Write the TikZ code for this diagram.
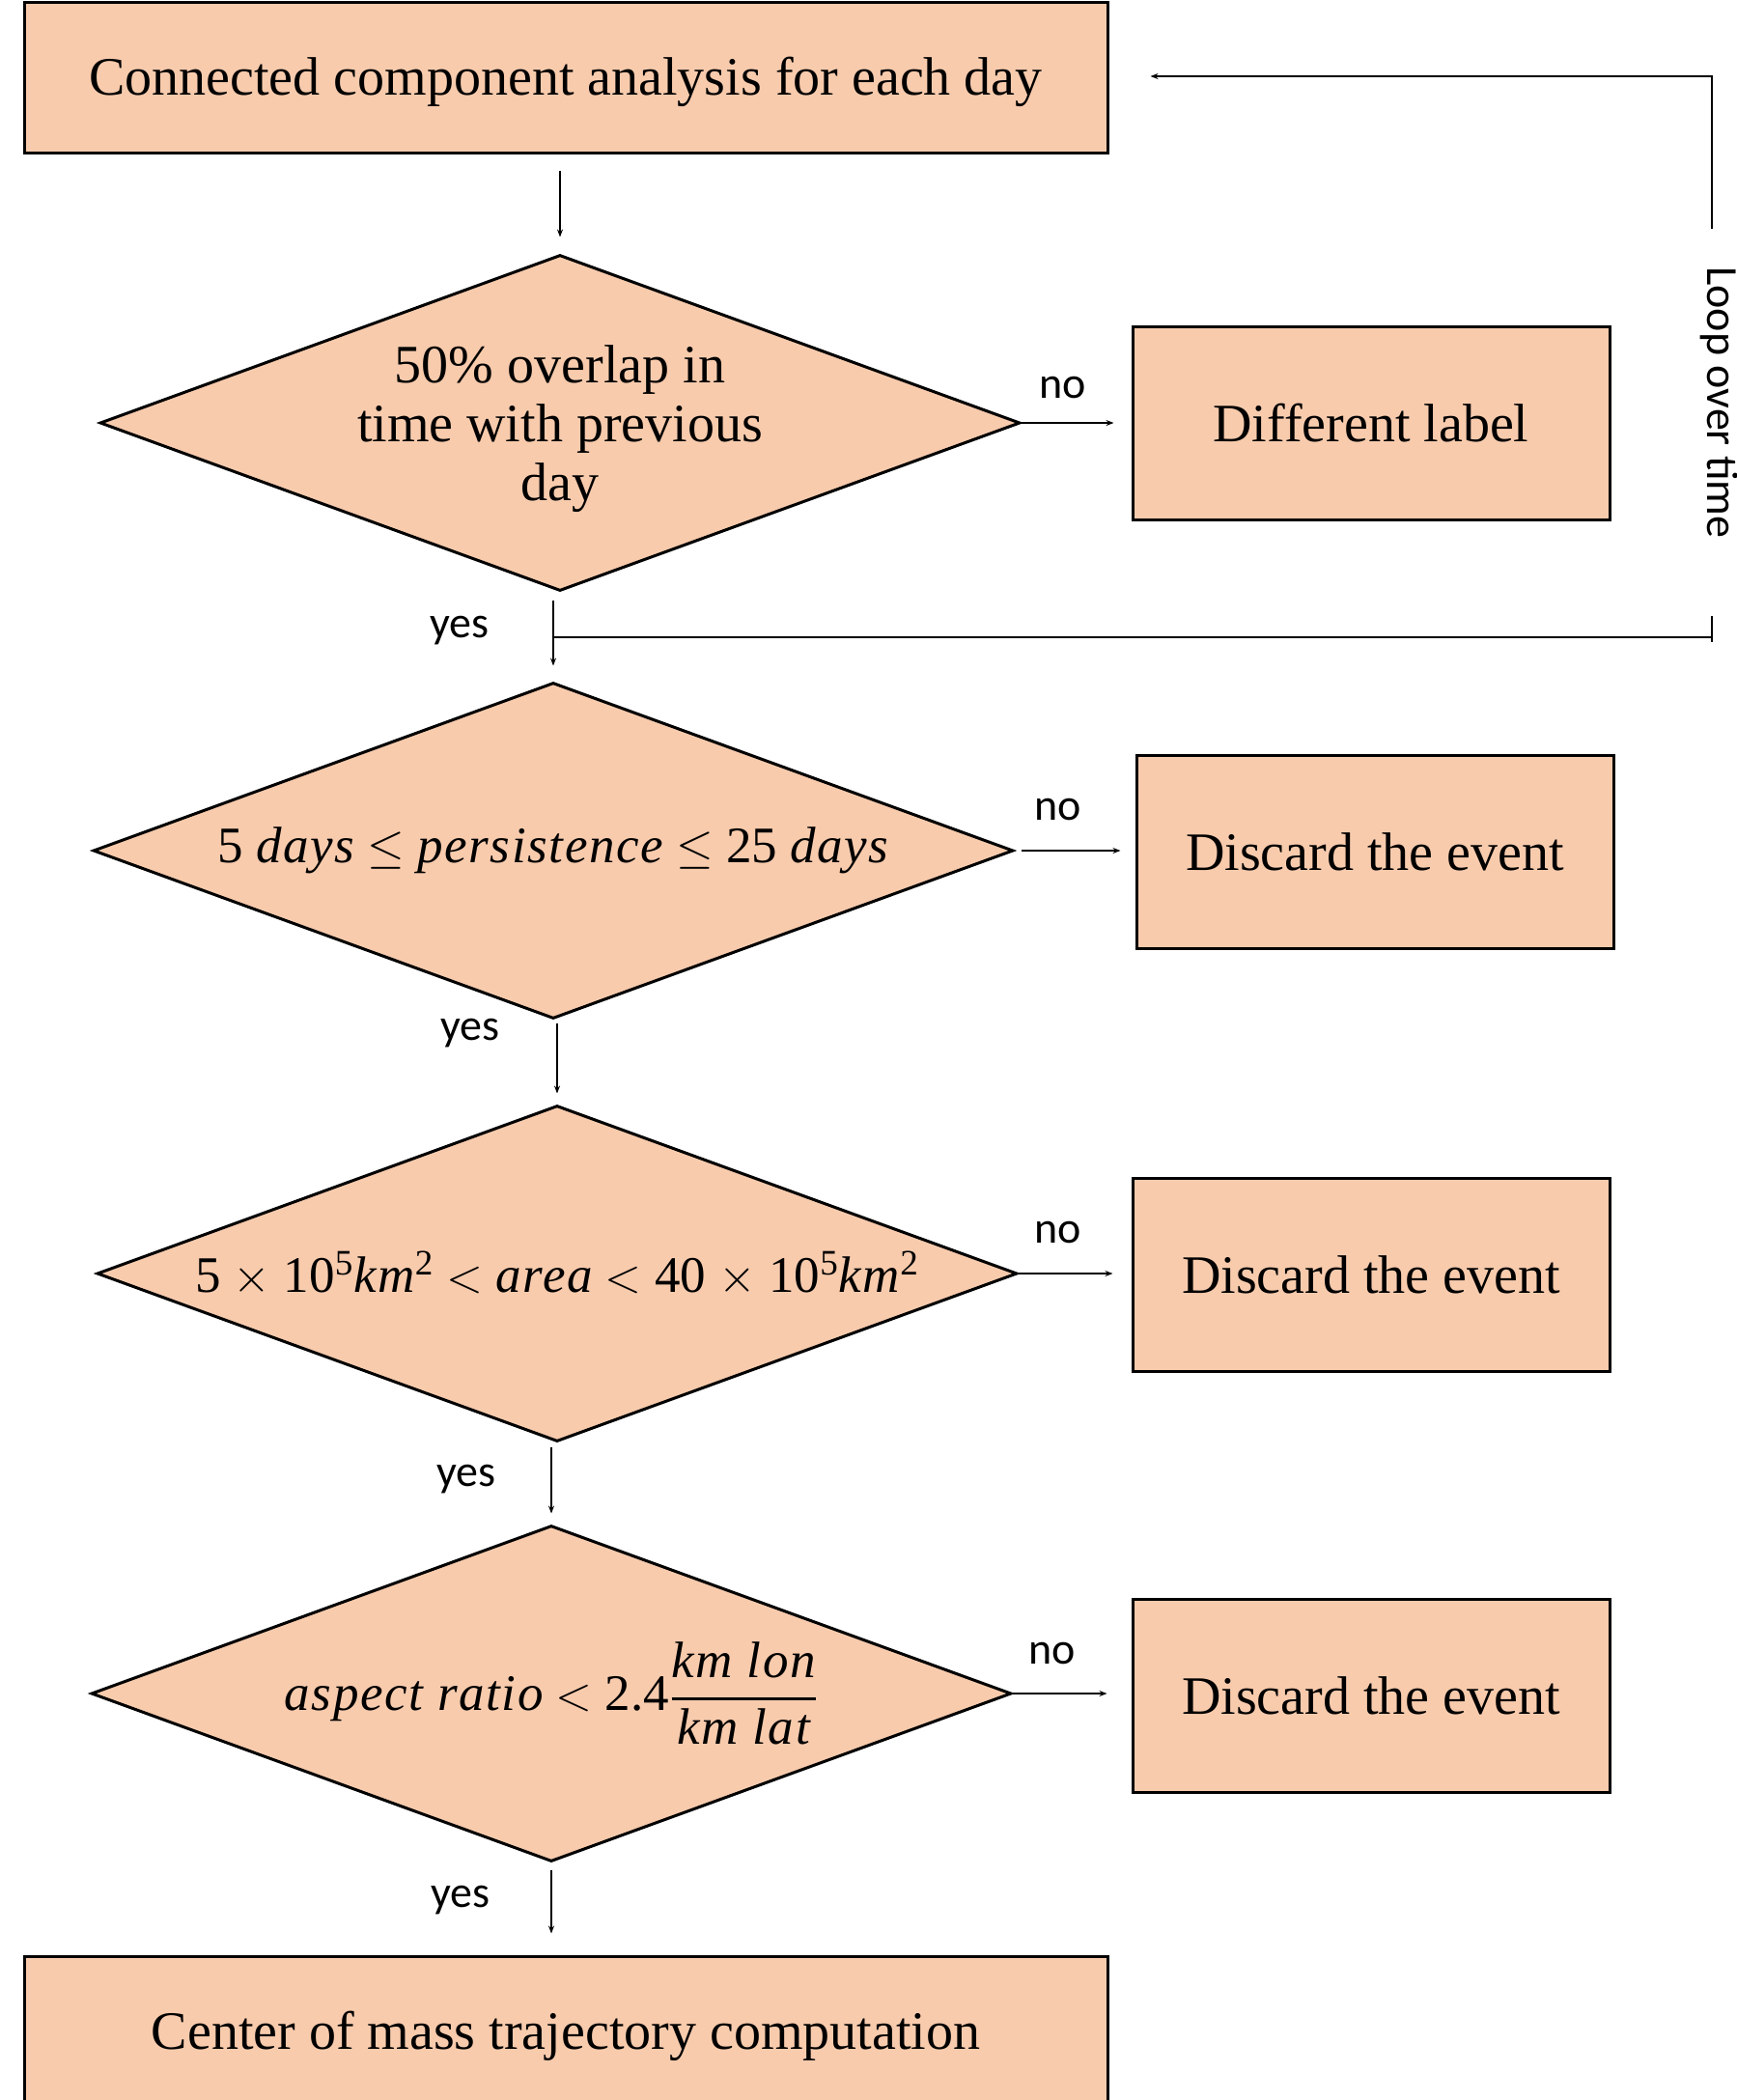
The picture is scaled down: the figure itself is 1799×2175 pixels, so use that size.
\documentclass[tikz,border=0pt]{standalone}
\usepackage{amsmath}
\usepackage{fontspec}
\setmainfont{Liberation Serif}
\newfontfamily\labelfont{Carlito}
\newfontfamily\varfam{Liberation Serif}[LetterSpace=3]
\newcommand{\mvar}[1]{\mbox{\varfam\itshape #1}}
\usetikzlibrary{shapes.geometric,arrows.meta}
\definecolor{boxfill}{HTML}{F8CBAD}
\begin{document}
\begin{tikzpicture}[x=0.5pt,y=-0.5pt,
  procbox/.style={draw=black, line width=1.5pt, fill=boxfill, rectangle,
    minimum height=100pt, minimum width=247pt, inner sep=0pt,
    font=\fontsize{28}{30.5}\selectfont},
  widebox/.style={procbox, minimum width=561pt, minimum height=78pt,
    text height=24.5pt, text depth=6pt},
  decision/.style={draw=black, line width=1.5pt, fill=boxfill, diamond,
    minimum width=476.5pt, minimum height=174pt, inner sep=0pt,
    font=\fontsize{26.5}{30}\selectfont},
  conn/.style={line width=0.75pt, -{Stealth[length=4pt,width=3pt]}},
  plain/.style={line width=0.75pt},
  tag/.style={font=\labelfont\fontsize{23}{27}\selectfont, inner sep=0pt},
]
\useasboundingbox (0,0) rectangle (1799,2175);
\clip (0,0) rectangle (1799,2175);

% process boxes
\node[widebox] (top) at (586,80) {Connected component analysis for each day};
\node[procbox] (diff) at (1420,438) {Different label};
\node[procbox] (disc1) at (1424,882) {Discard the event};
\node[procbox] (disc2) at (1420,1320) {Discard the event};
\node[procbox] (disc3) at (1420,1756) {Discard the event};
\node[widebox] (bottom) at (586,2104) {Center of mass trajectory computation};

% decisions
\node[decision] (d1) at (580,438) {\makebox[0pt]{\fontsize{28}{30.5}\selectfont
  \raisebox{-3.5pt}[\height][\depth]{\begin{tabular}{@{}c@{}}50\% overlap in\\time with previous\\day\end{tabular}}}};
\node[decision] (d2) at (573,881) {\makebox[0pt]{5 \mvar{days} $\leq$ \mvar{persistence} $\leq$ 25 \mvar{days}}};
\node[decision] (d3) at (577,1319) {\makebox[0pt]{5 $\times$ 10\textsuperscript{5}\mvar{km}\textsuperscript{2}
  $<$ \mvar{area} $<$ 40 $\times$ 10\textsuperscript{5}\mvar{km}\textsuperscript{2}}};
\node[decision] (d4) at (571,1754) {\makebox[0pt]{\mvar{aspect ratio} $<$
  2.4$\genfrac{}{}{1.5pt}{0}{\mvar{km lon}}{\mvar{km lat}}$}};

% main flow
\draw[conn, shorten <=8.5pt, shorten >=8.5pt] (top.south -| d1.north) -- (d1.north);
\draw[conn, shorten <=4pt, shorten >=8pt] (d1.south -| d2.north) -- (d2.north);
\draw[conn, shorten <=1.5pt, shorten >=5.5pt] (d2.south -| d3.north) -- (d3.north);
\draw[conn, shorten <=2pt, shorten >=5.5pt] (d3.south -| d4.north) -- (d4.north);
\draw[conn, shorten <=3.5pt, shorten >=11pt] (d4.south) -- (d4.south |- bottom.north);

% rejections
\draw[conn, shorten >=9pt] (d1.east) -- (d1.east -| diff.west);
\draw[conn, shorten <=3.5pt, shorten >=7.5pt] (d2.east) -- (d2.east -| disc1.west);
\draw[conn, shorten >=9.5pt] (d3.east) -- (d3.east -| disc2.west);
\draw[conn, shorten >=12.5pt] (d4.east) -- (d4.east -| disc3.west);

% loop back to the daily analysis
\coordinate (loopA) at (1773,660);
\coordinate (loopT) at (1773,638);
\coordinate (loopU) at (1773,665);
\coordinate (loopB) at (1773,237);
\coordinate (loopC) at (1773,79);
\draw[plain] (d2.north |- loopA) -- (loopA);
\draw[plain] (loopT) -- (loopU);
\draw[conn, shorten >=21.5pt] (loopB) -- (loopC) -- (loopC -| top.east);
\node[tag, rotate=-90] (looptxt) at (1781,417) {Loop over time};

% branch labels
\node[tag] (no1) at (1101,401) {no};
\node[tag] (no2) at (1096,838) {no};
\node[tag] (no3) at (1096,1276) {no};
\node[tag] (no4) at (1090,1712) {no};
\node[tag] (yes1) at (476,653) {yes};
\node[tag] (yes2) at (487,1070) {yes};
\node[tag] (yes3) at (483,1532) {yes};
\node[tag] (yes4) at (477,1968) {yes};
\end{tikzpicture}
\end{document}
